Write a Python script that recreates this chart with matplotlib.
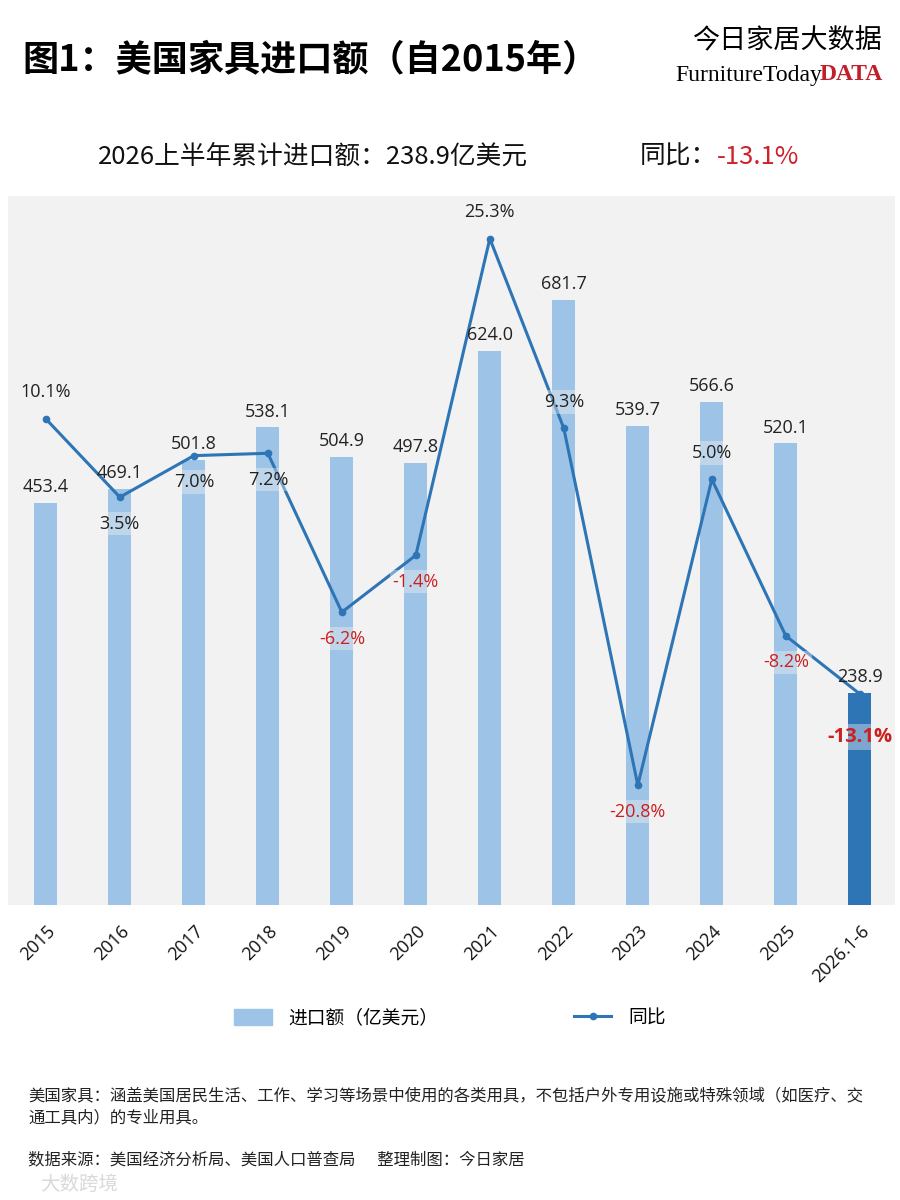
import matplotlib.pyplot as plt
import numpy as np

plt.rcParams['font.family'] = ['Noto Sans CJK SC', 'DejaVu Sans']

# data
years = ['2015', '2016', '2017', '2018', '2019', '2020', '2021', '2022',
         '2023', '2024', '2025', '2026.1-6']
imports = [453.4, 469.1, 501.8, 538.1, 504.9, 497.8, 624.0, 681.7,
           539.7, 566.6, 520.1, 238.9]
yoy = [10.1, 3.5, 7.0, 7.2, -6.2, -1.4, 25.3, 9.3, -20.8, 5.0, -8.2, -13.1]

# label placement for the yoy line (1 = above point, -1 = below)
yoy_side = [1, -1, -1, -1, -1, -1, 1, 1, -1, 1, -1, -1]

light_blue = '#9dc3e6'
dark_blue = '#2e75b6'
red = '#cc1f1f'
num_font = ['Open Sans', 'DejaVu Sans']

fig = plt.figure(figsize=(9, 12), dpi=100)
fig.patch.set_facecolor('white')

ax = fig.add_axes([0.009, 0.2458, 0.985, 0.5909])
ax.set_facecolor('#f2f2f2')
x = np.arange(len(years))
colors = [light_blue] * (len(years) - 1) + [dark_blue]
ax.bar(x, imports, width=0.31, color=colors, zorder=2)
ax.set_ylim(0, 799)
ax.set_xlim(-0.51, 11.47)
for sp in ax.spines.values():
    sp.set_visible(False)
ax.set_yticks([])
ax.set_xticks(x)
ax.set_xticklabels(years, rotation=45, ha='right', va='top', family=num_font,
                   rotation_mode='anchor', fontsize=13, color='#111111')
ax.tick_params(axis='x', length=0, pad=12)

ax2 = ax.twinx()
ax2.set_ylim(-30.9, 28.9)
ax2.patch.set_visible(False)
for sp in ax2.spines.values():
    sp.set_visible(False)
ax2.set_yticks([])
ax2.plot(x, yoy, color=dark_blue, lw=2.2, marker='o', ms=4.5, zorder=3)

# bar value labels (drawn on top axes so they sit above the line)
for xi, v in zip(x, imports):
    y2 = ax2.transData.inverted().transform(ax.transData.transform((xi, v)))[1]
    ax2.annotate(f'{v:.1f}', (xi, y2), xytext=(0, 5), textcoords='offset points',
                 ha='center', va='bottom', fontsize=13, color='#222222',
                 family=num_font, zorder=4)

for i, (xi, v) in enumerate(zip(x, yoy)):
    last = i == len(yoy) - 1
    col = red if v < 0 else '#222222'
    off = 19 * yoy_side[i]
    if last:
        off = -31
    ax2.annotate(f'{v:.1f}%', (xi, v), xytext=(0, off), textcoords='offset points',
                 ha='center', va='center', color=col, family=num_font,
                 fontsize=14.5 if last else 13,
                 fontweight='bold' if last else 'normal',
                 bbox=dict(boxstyle='square,pad=0.15', fc='#f2f2f2', ec='none', alpha=0.4),
                 zorder=4)

# title and header
fig.text(22 / 900, 1 - 60 / 1200, '图1：美国家具进口额（自2015年）',
         fontsize=26, fontweight='bold', ha='left', va='center', color='black')
fig.text(882 / 900, 1 - 40 / 1200, '今日家居大数据', fontsize=19.5,
         ha='right', va='center', color='black')
fig.text(822 / 900, 1 - 75 / 1200, 'FurnitureToday', family='Liberation Serif',
         fontsize=17, ha='right', va='center', color='black')
fig.text(883 / 900, 1 - 75 / 1200, 'DATA', family='Liberation Serif',
         fontsize=17, fontweight='bold', ha='right', va='center', color='#c0202a')

fig.text(98 / 900, 1 - 157 / 1200, '2026上半年累计进口额：238.9亿美元',
         fontsize=18.5, ha='left', va='center', color='#111111')
fig.text(640 / 900, 1 - 157 / 1200, '同比：', fontsize=18.5,
         ha='left', va='center', color='#111111')
fig.text(717 / 900, 1 - 157 / 1200, '-13.1%', fontsize=18.5,
         ha='left', va='center', color='#d0202a')

# legend
h_bar = plt.Rectangle((0, 0), 1, 1, color=light_blue)
h_line = plt.Line2D([], [], color=dark_blue, lw=2.2, marker='o', ms=4.5)
fig.legend([h_bar, h_line], ['进口额（亿美元）', '同比'], loc='center',
           bbox_to_anchor=(0.5, 1 - 1018 / 1200), ncol=2, frameon=False,
           fontsize=13.5, handlelength=2.0, handleheight=0.9,
           columnspacing=7.2, handletextpad=0.9)

# footnotes
fig.text(28 / 900, 1 - 1096 / 1200,
         '美国家具：涵盖美国居民生活、工作、学习等场景中使用的各类用具，不包括户外专用设施或特殊领域（如医疗、交',
         fontsize=11.8, ha='left', va='center', color='#222222')
fig.text(28 / 900, 1 - 1118 / 1200, '通工具内）的专业用具。',
         fontsize=11.8, ha='left', va='center', color='#222222')
fig.text(28 / 900, 1 - 1160 / 1200,
         '数据来源：美国经济分析局、美国人口普查局      整理制图：今日家居',
         fontsize=11.8, ha='left', va='center', color='#222222')
fig.text(40 / 900, 1 - 1184 / 1200, '大数跨境', fontsize=14,
         ha='left', va='center', color='#d9d9d9')

fig.savefig('out.png', dpi=100, facecolor='white')
